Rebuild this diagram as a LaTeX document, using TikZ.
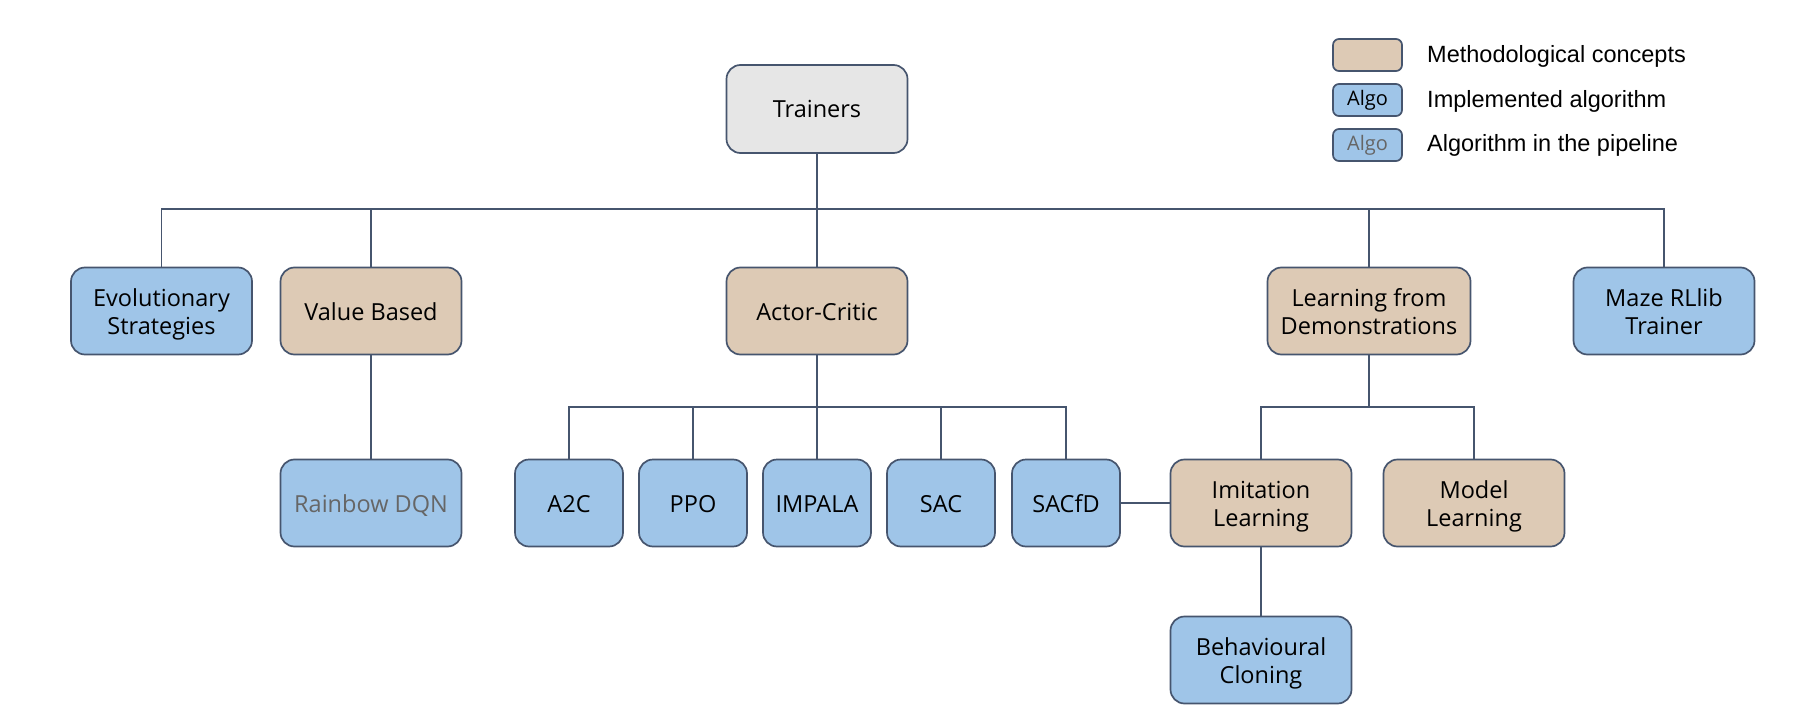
\documentclass[tikz,border=0pt]{standalone}
\usepackage{fontspec}
\setmainfont{Open Sans}
\newfontfamily\legendfont{Liberation Sans}
\definecolor{algoblue}{HTML}{9FC5E8}
\definecolor{concepttan}{HTML}{DDCAB5}
\definecolor{rootgrey}{HTML}{E6E6E6}
\definecolor{edgecol}{HTML}{46556E}
\definecolor{pipegrey}{HTML}{666666}
\newcommand\Tstr{\rule{0pt}{24pt}}
\newcommand\Bstr{\rule[-6pt]{0pt}{0pt}}
\begin{document}
\begin{tikzpicture}[x=1pt,y=-1pt,
  box/.style={draw=edgecol, line width=1.7pt, rounded corners=14pt, align=center,
    inner sep=0pt, font=\fontsize{23.5}{28}\selectfont, text=black},
  wide/.style={box, minimum width=181pt, minimum height=87pt},
  small/.style={box, minimum width=108pt, minimum height=87pt},
  algo/.style={fill=algoblue},
  concept/.style={fill=concepttan},
  pipe/.style={fill=algoblue, text=pipegrey},
  legbox/.style={draw=edgecol, line width=1.7pt, rounded corners=6pt, inner sep=0pt,
    minimum width=69pt, minimum height=32pt, font=\fontsize{20}{24}\selectfont},
  legtext/.style={anchor=west, inner sep=0pt, font=\legendfont\fontsize{23.5}{28}\selectfont},
  link/.style={draw=edgecol, line width=1.6pt}
]
\useasboundingbox (0,0) rectangle (1819,727);

% legend
\node[legbox, concept] (l1) at (1367.5,55) {};
\node[legbox, algo] (l2) at (1367.5,100) {Algo};
\node[legbox, pipe] (l3) at (1367.5,145) {Algo};
\node[legtext] (t1) at (1427,56) {Methodological concepts};
\node[legtext] (t2) at (1427,101) {Implemented algorithm};
\node[legtext] (t3) at (1427,145) {Algorithm in the pipeline};

% nodes
\node[wide, fill=rootgrey, minimum height=88pt] (trainers) at (817,109) {\Tstr Trainers\Bstr};
\node[wide, algo] (evo) at (161.5,311) {\Tstr Evolutionary\\Strategies\Bstr};
\node[wide, concept] (value) at (371,311) {\Tstr Value Based\Bstr};
\node[wide, concept] (actor) at (817,311) {\Tstr Actor-Critic\Bstr};
\node[wide, concept, minimum width=203pt] (lfd) at (1369,311) {\Tstr Learning from\\Demonstrations\Bstr};
\node[wide, algo] (maze) at (1664,311) {\Tstr Maze RLlib\\Trainer\Bstr};

\node[wide, pipe] (rainbow) at (371,503) {\Tstr Rainbow DQN\Bstr};
\node[small, algo] (a2c) at (569,503) {\Tstr A2C\Bstr};
\node[small, algo] (ppo) at (693,503) {\Tstr PPO\Bstr};
\node[small, algo] (impala) at (817,503) {\Tstr IMPALA\Bstr};
\node[small, algo] (sac) at (941,503) {\Tstr SAC\Bstr};
\node[small, algo] (sacfd) at (1066,503) {\Tstr SACfD\Bstr};
\node[wide, concept] (imit) at (1261,503) {\Tstr Imitation\\Learning\Bstr};
\node[wide, concept] (model) at (1474,503) {\Tstr Model\\Learning\Bstr};
\node[wide, algo] (bc) at (1261,660) {\Tstr Behavioural\\Cloning\Bstr};

% buses
\coordinate (bus1) at (817,209);
\coordinate (bus2) at (817,407);
\coordinate (bus3) at (1369,407);

\draw[link] (trainers.south) -- (actor.north);
\draw[link] (evo.north) |- (bus1) -| (maze.north);
\draw[link] (value.north) -- (value.north |- bus1);
\draw[link] (lfd.north) -- (lfd.north |- bus1);

\draw[link] (value.south) -- (rainbow.north);

\draw[link] (actor.south) -- (impala.north);
\draw[link] (a2c.north) |- (bus2) -| (sacfd.north);
\draw[link] (ppo.north) -- (ppo.north |- bus2);
\draw[link] (sac.north) -- (sac.north |- bus2);

\draw[link] (lfd.south) -- (bus3);
\draw[link] (imit.north) |- (bus3) -| (model.north);

\draw[link] (sacfd.east) -- (imit.west);
\draw[link] (imit.south) -- (imit.south |- bc.north);
\end{tikzpicture}
\end{document}
